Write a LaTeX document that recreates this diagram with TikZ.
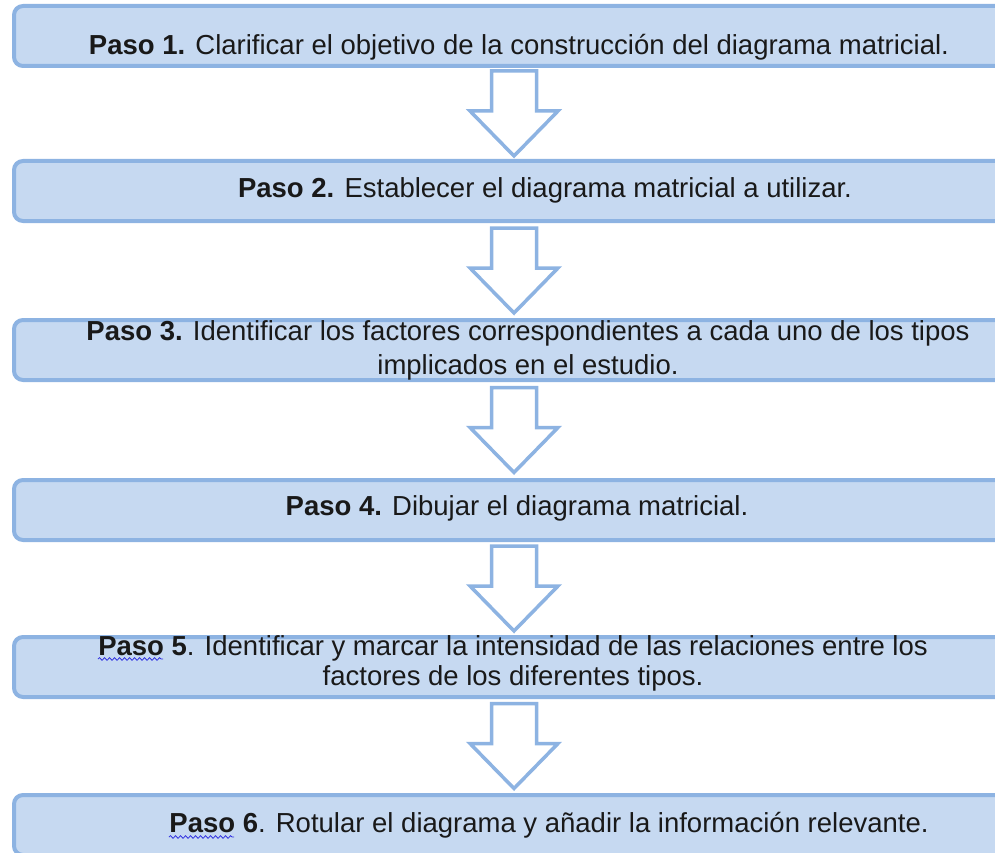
\documentclass[tikz,border=0pt]{standalone}
\usepackage{fontspec}
\setmainfont{Liberation Sans}
\usetikzlibrary{calc, decorations.pathmorphing}
\definecolor{boxline}{HTML}{8DB3E2}
\definecolor{boxfill}{HTML}{C6D9F1}
\definecolor{spellblue}{HTML}{3030E0}

\tikzset{
  stepbox/.style={draw=boxline, fill=boxfill, line width=4pt, rounded corners=9pt,
    minimum width=1000pt, minimum height=60pt, inner sep=0pt},
  steptext/.style={font=\fontsize{27.5}{34}\selectfont, align=center,
    anchor=base, inner sep=0pt, text=black!90},
  hollow/.style={draw=boxline, fill=white, line width=3.5pt, line join=miter},
  spell/.style={draw=spellblue, line width=0.8pt, decorate,
    decoration={snake, amplitude=1.3pt, segment length=5pt}}
}

% hollow down arrow between two boxes
\newcommand{\hollowdown}[2]{
  \path (#1.south) -- (#2.north) coordinate[midway] (mid);
  \draw[hollow] ($(mid)+(-22.5,-42.5)$) -- ++(45,0) -- ++(0,40) -- ++(21.5,0)
    -- ($(mid)+(0,42.5)$) -- ($(mid)+(-44,-2.5)$) -- ++(21.5,0) -- cycle;
}

\begin{document}
\begin{tikzpicture}[x=1pt, y=-1pt]
  \clip (0,0) rectangle (995,853);

  % Boxes (they run past the right edge)
  \node[stepbox] (b1) at (514,36) {};
  \node[stepbox] (b2) at (514,191) {};
  \node[stepbox] (b3) at (514,350) {};
  \node[stepbox] (b4) at (514,510) {};
  \node[stepbox] (b5) at (514,667) {};
  \node[stepbox] (b6) at (514,825) {};

  % Texts (placed by baseline of the last line)
  \node[steptext] (t1) at (519,55)
    {\textbf{Paso 1.} Clarificar el objetivo de la construcción del diagrama matricial.};
  \node[steptext] (t2) at (545,197)
    {\textbf{Paso 2.} Establecer el diagrama matricial a utilizar.};
  \node[steptext] (t3) at (528,374)
    {\textbf{Paso 3.} Identificar los factores correspondientes a cada uno de los tipos\\
     implicados en el estudio.};
  \node[steptext] (t4) at (517,515)
    {\textbf{Paso 4.} Dibujar el diagrama matricial.};
  \node[steptext, font=\fontsize{27.5}{30}\selectfont] (t5) at (513,685)
    {\textbf{Paso 5}. Identificar y marcar la intensidad de las relaciones entre los\\
     factores de los diferentes tipos.};
  \node[steptext] (t6) at (549,832)
    {\textbf{Paso 6}. Rotular el diagrama y añadir la información relevante.};

  % Spell-check marks
  \draw[spell] (98,659) -- (163,659);
  \draw[spell] (169,837) -- (234,837);

  % Arrows
  \hollowdown{b1}{b2}
  \hollowdown{b2}{b3}
  \hollowdown{b3}{b4}
  \hollowdown{b4}{b5}
  \hollowdown{b5}{b6}
\end{tikzpicture}
\end{document}
